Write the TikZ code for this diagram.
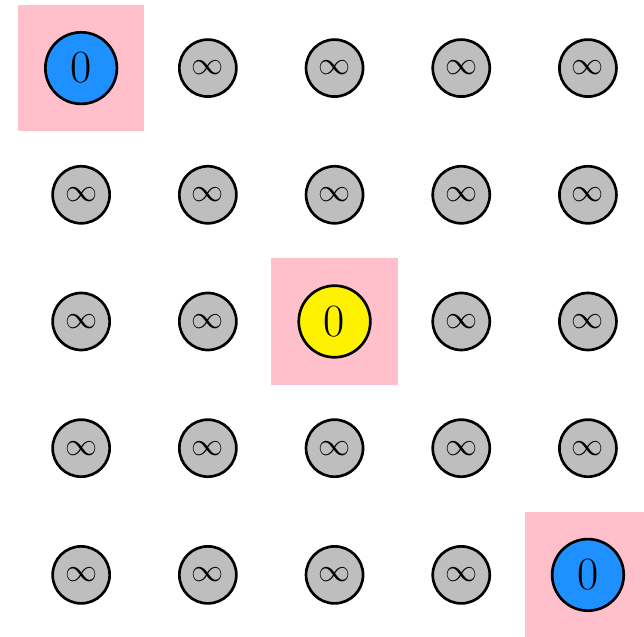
\documentclass[tikz,border=0pt]{standalone}
\usepackage{tikz}
\usepackage{xcolor}
\usetikzlibrary{positioning}
\definecolor{seedblue}{RGB}{30,144,255}
\definecolor{cellpink}{RGB}{255,192,203}
\definecolor{distgray}{RGB}{190,190,190}

\begin{document}
\begin{tikzpicture}[
    cell/.style={fill=cellpink, minimum size=2cm, inner sep=0pt},
    far/.style={circle, draw=black, line width=1.2pt, fill=distgray,
                minimum size=0.9cm, inner sep=0pt, font=\Large},
    seed/.style={circle, draw=black, line width=1.2pt, fill=#1,
                 minimum size=1.13cm, inner sep=0pt, font=\huge}
  ]
    \useasboundingbox (-1.281,1.075) rectangle (8.885,-8.98);

    % marked cells
    \node[cell] (p00) at (0,0) {};
    \node[cell] (p22) at (4,-4) {};
    \node[cell] (p44) at (8,-8) {};

    % distance grid
    \foreach \i in {0,...,4}
      \foreach \j in {0,...,4} {
        \ifnum\i=\j
          \ifnum\i=1 \node[far] (n\i\j) at (2*\i,-2*\j) {$\infty$};
          \else\ifnum\i=3 \node[far] (n\i\j) at (2*\i,-2*\j) {$\infty$};
          \fi\fi
        \else
          \node[far] (n\i\j) at (2*\i,-2*\j) {$\infty$};
        \fi
      }

    \node[seed=seedblue] (n00) at (p00) {0};
    \node[seed=yellow] (n22) at (p22) {0};
    \node[seed=seedblue] (n44) at (p44) {0};
  \end{tikzpicture}
\end{document}
